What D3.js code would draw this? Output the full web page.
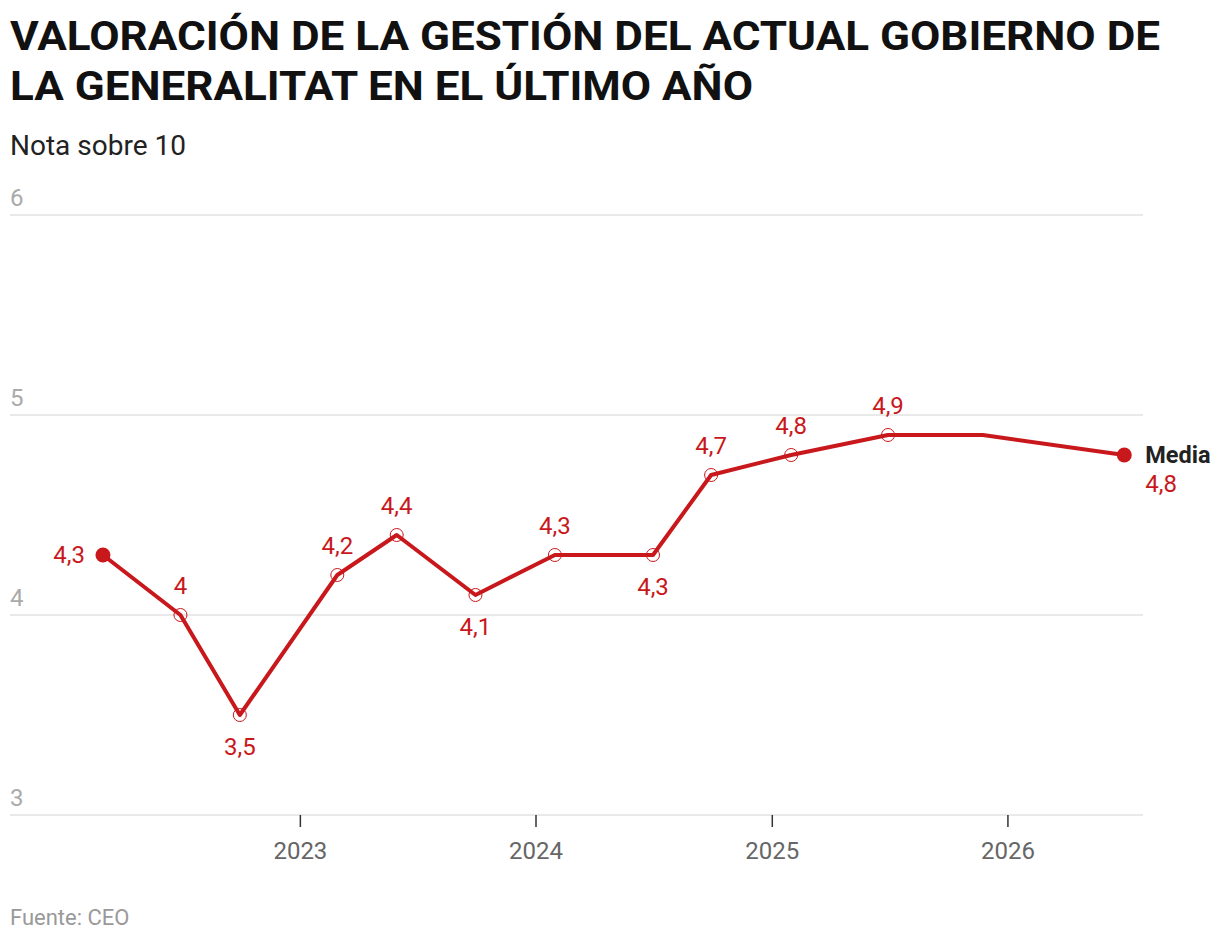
<!DOCTYPE html>
<html><head><meta charset="utf-8">
<script src="https://cdn.jsdelivr.net/npm/d3@7"></script>
<style>
body{margin:0;background:#fff;font-family:Roboto,"Noto Sans",sans-serif;}
</style></head>
<body><svg id="c" width="1220" height="942"></svg>
<script>
const dates = ["2022-03-02","2022-06-30","2022-09-30","2023-02-28","2023-05-31","2023-09-30","2024-01-31","2024-07-01","2024-09-29","2025-01-31","2025-06-30","2025-11-24","2026-07-01"];
const values = [4.3,4.0,3.5,4.2,4.4,4.1,4.3,4.3,4.7,4.8,4.9,4.9,4.8];
const labels = ["4,3","4","3,5","4,2","4,4","4,1","4,3","4,3","4,7","4,8","4,9","","4,8"];
const labelPos = ["left","above","below","above","above","below","above","below","above","above","above","none","end"];
const yTicks = [3,4,5,6];
const xTickYears = [2023,2024,2025,2026];
const seriesName = "Media";

(function(){
const parse = d3.utcParse("%Y-%m-%d");
const data = dates.map((d,i)=>({date:parse(d), v:values[i], label:labels[i], pos:labelPos[i]}));

const svg = d3.select("#c");
const pLeft = 10, pRight = 1143, pTop = 215, pBottom = 815;
const x = d3.scaleUtc().domain([parse("2021-10-09"), parse("2026-07-30")]).range([pLeft, pRight]);
const y = d3.scaleLinear().domain([3,6]).range([pBottom, pTop]);
const red = "#c8181c";

// title
svg.append("text").attr("x",10).attr("y",50).attr("font-size",40).attr("font-weight",700).attr("fill","#111").attr("textLength",1150).attr("lengthAdjust","spacingAndGlyphs").text("VALORACIÓN DE LA GESTIÓN DEL ACTUAL GOBIERNO DE");
svg.append("text").attr("x",10).attr("y",100).attr("font-size",40).attr("font-weight",700).attr("fill","#111").attr("textLength",743).attr("lengthAdjust","spacingAndGlyphs").text("LA GENERALITAT EN EL ÚLTIMO AÑO");
svg.append("text").attr("x",10).attr("y",155).attr("font-size",28).attr("fill","#222").text("Nota sobre 10");

// gridlines + y labels
const g = svg.append("g");
yTicks.forEach(t=>{
  g.append("line").attr("x1",pLeft).attr("x2",pRight).attr("y1",y(t)).attr("y2",y(t)).attr("stroke","#e2e2e2").attr("stroke-width",1.5);
  g.append("text").attr("x",10).attr("y",y(t)-9).attr("font-size",24).attr("fill","#aaa").text(t);
});

// x axis
const xAxis = d3.axisBottom(x).tickValues(xTickYears.map(yr=>new Date(Date.UTC(yr,0,1)))).tickFormat(d3.utcFormat("%Y")).tickSize(12).tickPadding(15);
const ax = svg.append("g").attr("transform",`translate(0,${pBottom})`).call(xAxis);
ax.select(".domain").remove();
ax.selectAll(".tick line").attr("stroke","#333").attr("stroke-width",1.5);
ax.selectAll(".tick text").attr("font-size",24).attr("fill","#666").attr("font-family","Roboto");

// line
const line = d3.line().x(d=>x(d.date)).y(d=>y(d.v));
svg.append("path").datum(data).attr("d",line).attr("fill","none").attr("stroke",red).attr("stroke-width",4).attr("stroke-linejoin","round");

// points
const inner = data.filter((d,i)=>i>0 && i<data.length-1 && d.pos!=="none");
svg.selectAll("circle.o").data(inner).join("circle").attr("class","o")
  .attr("cx",d=>x(d.date)).attr("cy",d=>y(d.v)).attr("r",6.5)
  .attr("fill","none").attr("stroke",red).attr("stroke-width",1);
[data[0], data[data.length-1]].forEach(d=>{
  svg.append("circle").attr("cx",x(d.date)).attr("cy",y(d.v)).attr("r",7.5).attr("fill",red);
});

// labels
data.forEach(d=>{
  if(d.pos==="none") return;
  const cx = x(d.date), cy = y(d.v);
  const t = svg.append("text").attr("font-size",24).attr("fill",red).text(d.label);
  if(d.pos==="above") t.attr("x",cx).attr("y",cy-21).attr("text-anchor","middle");
  else if(d.pos==="below") t.attr("x",cx).attr("y",cy+40).attr("text-anchor","middle");
  else if(d.pos==="left") t.attr("x",cx-18).attr("y",cy+8).attr("text-anchor","end");
  else if(d.pos==="end"){
    svg.append("text").attr("x",cx+21).attr("y",cy+8).attr("font-size",23.5).attr("font-weight",700).attr("fill","#222").text(seriesName);
    t.attr("x",cx+21).attr("y",cy+37);
  }
});

svg.append("text").attr("x",10).attr("y",925).attr("font-size",22).attr("fill","#999").text("Fuente: CEO");
})();
</script></body></html>
